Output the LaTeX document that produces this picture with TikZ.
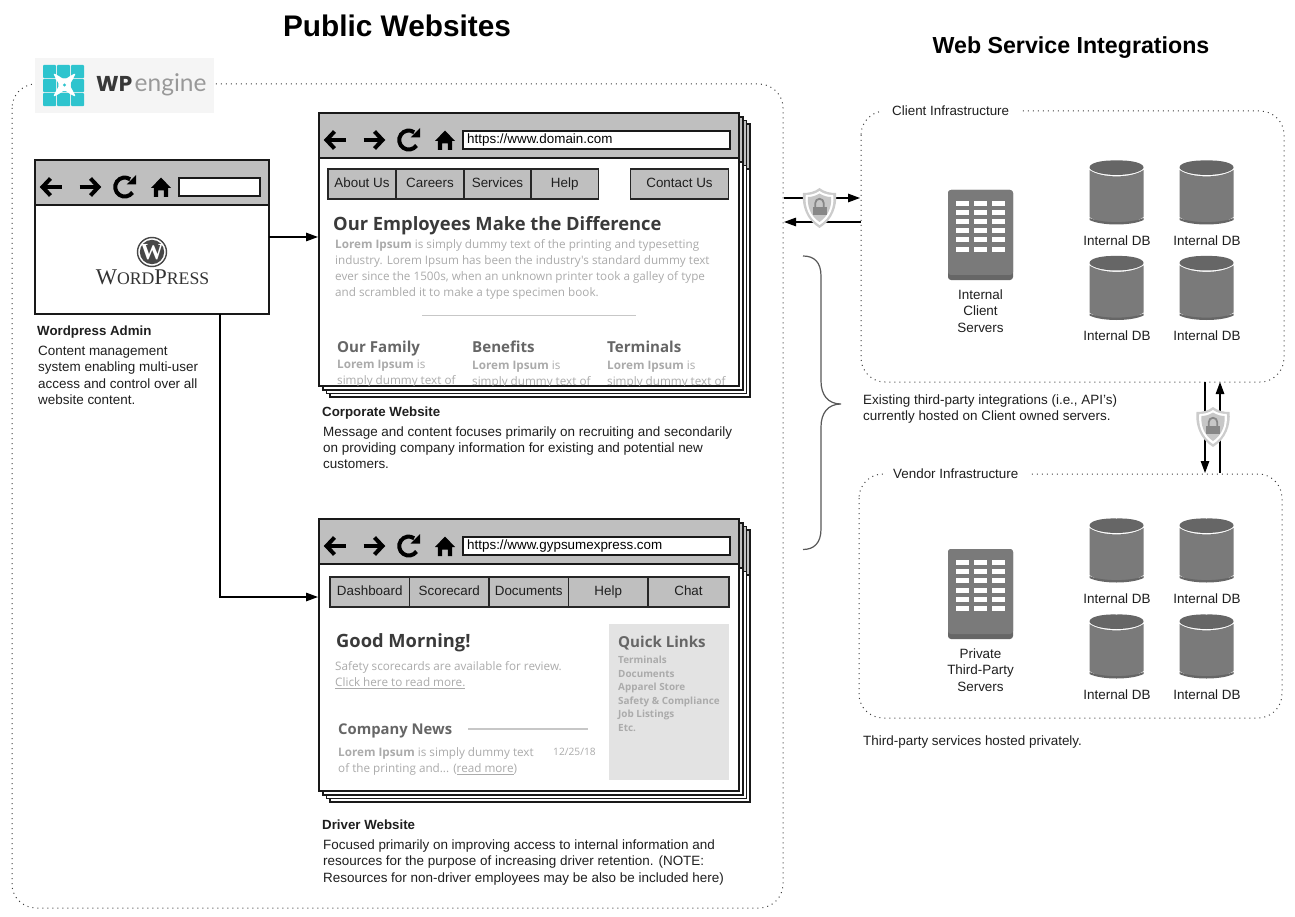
\documentclass[tikz,border=0pt]{standalone}
\usepackage{fontspec}
\setmainfont{Liberation Sans}
\newfontfamily\osfont{Open Sans}
\newfontfamily\latofont{Lato}
\newfontfamily\popfont{Poppins}
\newfontfamily\serfont{Liberation Serif}
\usetikzlibrary{arrows.meta}
\definecolor{barGray}{HTML}{BFBFBF}
\definecolor{iconGray}{HTML}{7A7A7A}
\definecolor{iconDark}{HTML}{666666}
\definecolor{loremGray}{HTML}{ABABAB}
\definecolor{headDark}{HTML}{3A3A3A}
\definecolor{headMid}{HTML}{666666}
\definecolor{quickBg}{HTML}{E3E3E3}
\definecolor{teal}{HTML}{2EC4CE}
\newcommand{\fsz}[1]{\fontsize{#1}{#1}\selectfont}
\tikzset{
  x=1pt,y=-1pt,
  txt/.style={anchor=base west,inner sep=0pt,yshift=-1pt,text=black!88,font=\fsz{13.45}},
  ctr/.style={anchor=base,inner sep=0pt,yshift=-1pt,text=black!88,font=\fsz{13.45}},
  bold/.style={txt,font=\fsz{13.3}\bfseries},
  lorem/.style={anchor=base west,inner sep=0pt,text=loremGray,font=\osfont\fsz{11.7}},
  colhead/.style={anchor=base west,inner sep=0pt,text=headMid,font=\osfont\bfseries\fsz{15.1}},
  linkitem/.style={anchor=base west,inner sep=0pt,text=loremGray,font=\osfont\bfseries\fsz{9.9}},
  region/.style={draw=black!75,line width=1pt,dash pattern=on 1pt off 4pt,rounded corners=24pt},
  winbox/.style={draw=black!90,line width=1.7pt,fill=white,anchor=north west,inner sep=0pt,outer sep=0pt},
  barbox/.style={draw=black!90,line width=1.7pt,fill=barGray,anchor=north west,inner sep=0pt,outer sep=0pt,minimum height=45pt},
  urlbox/.style={draw=black!90,line width=1.5pt,fill=white,anchor=north west,inner sep=0pt,outer sep=0pt,minimum height=18pt},
  urltext/.style={anchor=base west,inner sep=0pt,text=black,font=\fsz{13.4}},
  navbtn/.style={draw=black!85,line width=1.6pt,fill=barGray,anchor=north west,inner sep=0pt,outer sep=0pt,minimum height=30pt,text height=10.5pt,text depth=3.5pt,text=black!88,font=\fsz{13.4}},
  conn/.style={draw=black,line width=1.3pt,-{Triangle[length=12pt,width=8.5pt]}},
  navicons/.pic={
    \begin{scope}[line width=4pt,black]
      \draw (16+10.5,27) -- (16-8,27);
      \draw[miter limit=10] (16-0.5,27-8.5) -- (16-8.5,27) -- (16-0.5,27+8.5);
      \draw (55-10.5,27) -- (55+8,27);
      \draw[miter limit=10] (55+0.5,27-8.5) -- (55+8.5,27) -- (55+0.5,27+8.5);
      \draw (90+7.5,27+5.5) arc[start angle=35,delta angle=270,radius=9.5];
      \fill (90+1.5,27-2.5) -- (90+11,27-2.5) -- (90+11,27-12) -- cycle;
    \end{scope}
    \fill[black] (126,27-9.5) -- (126+10,27+1) -- (126+7.2,27+1) -- (126+7.2,27+10)
      -- (126+2.8,27+10) -- (126+2.8,27+3.5) -- (126-2.8,27+3.5) -- (126-2.8,27+10)
      -- (126-7.2,27+10) -- (126-7.2,27+1) -- (126-10,27+1) -- cycle;
  },
  shieldicon/.pic={
    \fill[black!20] (0,-20) .. controls (5,-16) and (11,-15) .. (16.5,-15)
      .. controls (18,-2) and (13,12) .. (0,20) .. controls (-13,12) and (-18,-2) .. (-16.5,-15)
      .. controls (-11,-15) and (-5,-16) .. (0,-20) -- cycle;
    \fill[white] (0,-17) .. controls (4,-14) and (9,-13) .. (13.7,-13)
      .. controls (15,-2) and (11,10) .. (0,17) .. controls (-11,10) and (-15,-2) .. (-13.7,-13)
      .. controls (-9,-13) and (-4,-14) .. (0,-17) -- cycle;
    \fill[black!22] (0,-14.5) .. controls (4,-12) and (8,-11) .. (11.5,-11)
      .. controls (12.5,-2) and (9,8) .. (0,14) .. controls (-9,8) and (-12.5,-2) .. (-11.5,-11)
      .. controls (-8,-11) and (-4,-12) .. (0,-14.5) -- cycle;
    \fill[iconGray!90] (-7,-1) rectangle (7,7);
    \draw[iconGray!90,line width=1.8pt] (-4.2,-1) -- (-4.2,-5) arc[start angle=180,end angle=360,radius=4.2] -- (4.2,-1);
  },
  dbicon/.pic={
    \fill[iconGray] (0,10) .. controls (12,18.5) and (42,18.5) .. (54,10) -- (54,57)
      .. controls (42,66) and (12,66) .. (0,57) -- cycle;
    \fill[iconDark] (0,58) .. controls (12,63.5) and (42,63.5) .. (54,58) -- (54,60)
      .. controls (42,66) and (12,66) .. (0,60) -- cycle;
    \fill[iconDark] (0,7.5) .. controls (0,3) and (12,0) .. (27,0.5)
      .. controls (42,0) and (54,3) .. (54,7.5) .. controls (54,11) and (42,15) .. (27,15)
      .. controls (12,15) and (0,11) .. (0,7.5) -- cycle;
  },
  servericon/.pic={
    \fill[iconDark,rounded corners=3pt] (0,0) rectangle (65,90);
    \fill[iconGray,rounded corners=3pt] (0,0) -- (65,0) -- (65,85) -- (0,85) -- cycle;
    \foreach \cx in {8,26,44}{
      \foreach \cy in {11,20,29,38.5,47.5,57}{
        \fill[white] (\cx,\cy) rectangle (\cx+13,\cy+5);
      }
    }
  },
}
\begin{document}
\begin{tikzpicture}
\useasboundingbox (0,0) rectangle (1295,917);
\fill[white] (0,0) rectangle (1295,917);

% titles
\node[anchor=center,inner sep=0pt,font=\fsz{29.8}\bfseries] (title1) at (397,26) {Public Websites};
\node[anchor=center,inner sep=0pt,font=\fsz{23.2}\bfseries] (title2) at (1071,48) {Web Service Integrations};

% regions
\draw[region] (12,84) rectangle (783,908);
\draw[region] (861,111) rectangle (1284,382);
\draw[region] (859,474) rectangle (1282,718);
\fill[white] (880,100) rectangle (1020,122);
\fill[white] (883,463) rectangle (1028,485);
\node[txt,font=\fsz{13.4}] (clientlab) at (892,114.5) {Client Infrastructure};
\node[txt,font=\fsz{13.4}] (vendorlab) at (893,477.5) {Vendor Infrastructure};

% WP Engine logo
\fill[black!4] (35,58) rectangle (214,113);
\begin{scope}
  \foreach \gx in {43,57,71}{\foreach \gy in {65,79,93}{
    \fill[teal,rounded corners=1pt] (\gx,\gy) rectangle (\gx+13.2,\gy+13.2);}}
  \fill[white,rounded corners=2pt] (53,73) -- (59,76) -- (64.5,80) -- (70,76) -- (76,73) -- (73,79) -- (69.5,85)
     -- (73,91) -- (76,97) -- (70,94) -- (64.5,90) -- (59,94) -- (53,97) -- (56,91) -- (59.5,85) -- (56,79) -- cycle;
  \fill[teal] (64.5,85) circle (1.6);
\end{scope}
\node[anchor=base west,inner sep=0pt,text=black!78,font=\popfont\bfseries\fsz{21.5}] (wplogo) at (96,92) {WP};
\node[anchor=base west,inner sep=0pt,text=black!40,font=\latofont\fsz{24.5}] (enginelogo) at (134.5,92) {engine};

% Admin browser
\node[winbox,minimum width=234pt,minimum height=154pt] (admin) at (35,160) {};
\node[barbox,minimum width=234pt] (adminbar) at (35,160) {};
\pic at (35,160) {navicons};
\node[urlbox,minimum width=81pt] (adminurl) at (179,178) {};
\draw[black!72,line width=1.4pt,fill=white] (152,252) circle (14.5);
\fill[black!72] (152,252) circle (12.2);
\node[anchor=center,inner sep=0pt,text=white,font=\serfont\bfseries\fsz{23}] (wpw) at (152,252.5) {W};
\node[anchor=base,inner sep=0pt,text=black!80,font=\serfont] (wpname) at (152.5,284.5) {\fsz{22.5}W\fsz{17.7}ORD\fsz{22.5}P\fsz{17.7}RESS};

\node[bold] (admint) at (37,334.5) {Wordpress Admin};
\node[txt] (admina) at (38,354.5) {Content management};
\node[txt] (adminb) at (38,370.5) {system enabling multi-user};
\node[txt] (adminc) at (38,387) {access and control over all};
\node[txt] (admind) at (38,403.5) {website content.};

% Corporate browser: stack
\foreach \o/\nm in {11/c, 7.5/b, 4/a}{
  \node[winbox,minimum width=420pt,minimum height=273pt] (corp\nm) at (319+\o,113+\o) {};
  \node[barbox,minimum width=420pt] (corpbar\nm) at (319+\o,113+\o) {};
}
\node[winbox,minimum width=420pt,minimum height=273pt] (corp) at (319,113) {};
\node[barbox,minimum width=420pt] (corpbar) at (319,113) {};
\pic at (319,113) {navicons};
\node[urlbox,minimum width=267pt] (corpurl) at (463,131) {};
\node[urltext] (corpurlt) at (467,143.5) {https://www.domain.com};
\node[navbtn,minimum width=68pt] (cn1) at (328,169) {About Us};
\node[navbtn,minimum width=68pt] (cn2) at (396,169) {Careers};
\node[navbtn,minimum width=67pt] (cn3) at (464,169) {Services};
\node[navbtn,minimum width=67.5pt] (cn4) at (531,169) {Help};
\node[navbtn,minimum width=98pt] (cn5) at (630.5,169) {Contact Us};

\node[anchor=base west,inner sep=0pt,text=headDark,font=\osfont\bfseries\fsz{18.35}] (corphead) at (333,230.5) {Our Employees Make the Difference};
\node[lorem] (cl1) at (335,248.7) {\textbf{Lorem Ipsum} is simply dummy text of the printing and typesetting};
\node[lorem] (cl2) at (335,264.7) {industry. Lorem Ipsum has been the industry's standard dummy text};
\node[lorem] (cl3) at (335,280.7) {ever since the 1500s, when an unknown printer took a galley of type};
\node[lorem] (cl4) at (335,296.5) {and scrambled it to make a type specimen book.};
\draw[black!22,line width=1.2pt] (422,315.5) -- (636,315.5);

\node[colhead] (fam) at (337,352) {Our Family};
\node[colhead] (ben) at (472,352) {Benefits};
\node[colhead] (ter) at (607,352) {Terminals};
\begin{scope}
  \clip (320,300) rectangle (738,385);
  \node[lorem] (f1) at (337,368) {\textbf{Lorem Ipsum} is};
  \node[lorem] (f2) at (337,384) {simply dummy text of};
  \node[lorem] (b1) at (472,369) {\textbf{Lorem Ipsum} is};
  \node[lorem] (b2) at (472,385) {simply dummy text of};
  \node[lorem] (t1) at (607,369) {\textbf{Lorem Ipsum} is};
  \node[lorem] (t2) at (607,385) {simply dummy text of};
\end{scope}

\node[bold] (corpt) at (322,415.5) {Corporate Website};
\node[txt] (corpa) at (323,435.5) {Message and content focuses primarily on recruiting and secondarily};
\node[txt] (corpb) at (323,451.5) {on providing company information for existing and potential new};
\node[txt] (corpc) at (323,467.5) {customers.};

% Driver browser: stack
\foreach \o/\nm in {11/c, 7.5/b, 4/a}{
  \node[winbox,minimum width=420pt,minimum height=272pt] (drv\nm) at (319+\o,519+\o) {};
  \node[barbox,minimum width=420pt] (drvbar\nm) at (319+\o,519+\o) {};
}
\node[winbox,minimum width=420pt,minimum height=272pt] (drv) at (319,519) {};
\node[barbox,minimum width=420pt] (drvbar) at (319,519) {};
\pic at (319,519) {navicons};
\node[urlbox,minimum width=267pt] (drvurl) at (463,537) {};
\node[urltext] (drvurlt) at (467,549.3) {https://www.gypsumexpress.com};
\node[navbtn,minimum width=79.5pt] (dn1) at (330,577) {Dashboard};
\node[navbtn,minimum width=79.5pt] (dn2) at (409.5,577) {Scorecard};
\node[navbtn,minimum width=79.5pt] (dn3) at (489,577) {Documents};
\node[navbtn,minimum width=79.5pt] (dn4) at (568.5,577) {Help};
\node[navbtn,minimum width=81pt] (dn5) at (648,577) {Chat};

\node[anchor=base west,inner sep=0pt,text=headDark,font=\osfont\bfseries\fsz{18.3}] (gm) at (336,647) {Good Morning!};
\node[lorem,font=\osfont\fsz{11.7}] (gm1) at (335,670.5) {Safety scorecards are available for review.};
\node[lorem] (gm2) at (335,686.5) {\underline{Click here to read more.}};
\node[colhead,font=\osfont\bfseries\fsz{14.8}] (news) at (338,734) {Company News};
\draw[black!22,line width=1.2pt] (468,729) -- (588,729);
\node[lorem] (n1) at (338,756.5) {\textbf{Lorem Ipsum} is simply dummy text};
\node[lorem] (n2) at (338,772.5) {of the printing and... (\underline{read more})};
\node[lorem,font=\osfont\fsz{10.2}] (ndate) at (553,755.5) {12/25/18};

\fill[quickBg] (609,624) rectangle (729,780);
\node[colhead,font=\osfont\bfseries\fsz{15.1}] (ql) at (618,647.5) {Quick Links};
\node[linkitem] (q1) at (618,663) {Terminals};
\node[linkitem] (q2) at (618,677) {Documents};
\node[linkitem] (q3) at (618,690) {Apparel Store};
\node[linkitem] (q4) at (618,704) {Safety \& Compliance};
\node[linkitem] (q5) at (618,717) {Job Listings};
\node[linkitem] (q6) at (618,731) {Etc.};

\node[bold] (drvt) at (322,828.5) {Driver Website};
\node[txt] (drva) at (323,848.5) {Focused primarily on improving access to internal information and};
\node[txt] (drvb) at (323,864.5) {resources for the purpose of increasing driver retention. (NOTE:};
\node[txt] (drvc) at (323,881) {Resources for non-driver employees may be also be included here)};

% connectors
\coordinate (corpin) at (318,237);
\coordinate (drvin) at (318,597);
\coordinate (adminout) at (220,314);
\coordinate (drvturn) at (220,597);
\draw[conn] (admin.east) -- (corpin);
\draw[conn] (adminout) -- (drvturn) -- (drvin);

% integration links
\coordinate (la) at (784,198); \coordinate (lb) at (860,198);
\coordinate (lc) at (861,222); \coordinate (ld) at (784,222);
\draw[conn] (la) -- (lb);
\draw[conn] (lc) -- (ld);
\pic at (819.5,208) {shieldicon};
\coordinate (va) at (1205,382); \coordinate (vb) at (1205,473);
\coordinate (vc) at (1220,473); \coordinate (vd) at (1220,382);
\draw[conn] (va) -- (vb);
\draw[conn] (vc) -- (vd);
\pic at (1213,427) {shieldicon};

% brace
\coordinate (bra) at (803,256); \coordinate (brb) at (841,404); \coordinate (brc) at (803,549.5);
\draw[black!65,line width=1.2pt] (bra) .. controls (814,256) and (821,262) .. (821,276)
  -- (821,381) .. controls (821,395) and (828,404) .. (brb)
  .. controls (828,404) and (821,413) .. (821,427)
  -- (821,529) .. controls (821,543) and (814,549.5) .. (brc);

% client servers and databases
\pic at (948,190) {servericon};
\node[ctr] (s1a) at (980.5,298.5) {Internal};
\node[ctr] (s1b) at (980.5,314.5) {Client};
\node[ctr] (s1c) at (980.5,331.5) {Servers};
\pic at (1089.5,160) {dbicon};
\pic at (1179.5,160) {dbicon};
\pic at (1089.5,255.5) {dbicon};
\pic at (1179.5,255.5) {dbicon};
\node[ctr] (d1) at (1117,244.5) {Internal DB};
\node[ctr] (d2) at (1207,244.5) {Internal DB};
\node[ctr] (d3) at (1117,339.5) {Internal DB};
\node[ctr] (d4) at (1207,339.5) {Internal DB};

\node[txt] (exa) at (863,403.5) {Existing third-party integrations (i.e., API's)};
\node[txt] (exb) at (863,419.5) {currently hosted on Client owned servers.};

% vendor servers and databases
\pic at (948,549) {servericon};
\node[ctr] (s2a) at (980.5,657.5) {Private};
\node[ctr] (s2b) at (980.5,673.5) {Third-Party};
\node[ctr] (s2c) at (980.5,690.5) {Servers};
\pic at (1089.5,518) {dbicon};
\pic at (1179.5,518) {dbicon};
\pic at (1089.5,614) {dbicon};
\pic at (1179.5,614) {dbicon};
\node[ctr] (d5) at (1117,602.5) {Internal DB};
\node[ctr] (d6) at (1207,602.5) {Internal DB};
\node[ctr] (d7) at (1117,698.5) {Internal DB};
\node[ctr] (d8) at (1207,698.5) {Internal DB};

\node[txt] (tp) at (863,744.5) {Third-party services hosted privately.};
\end{tikzpicture}
\end{document}
